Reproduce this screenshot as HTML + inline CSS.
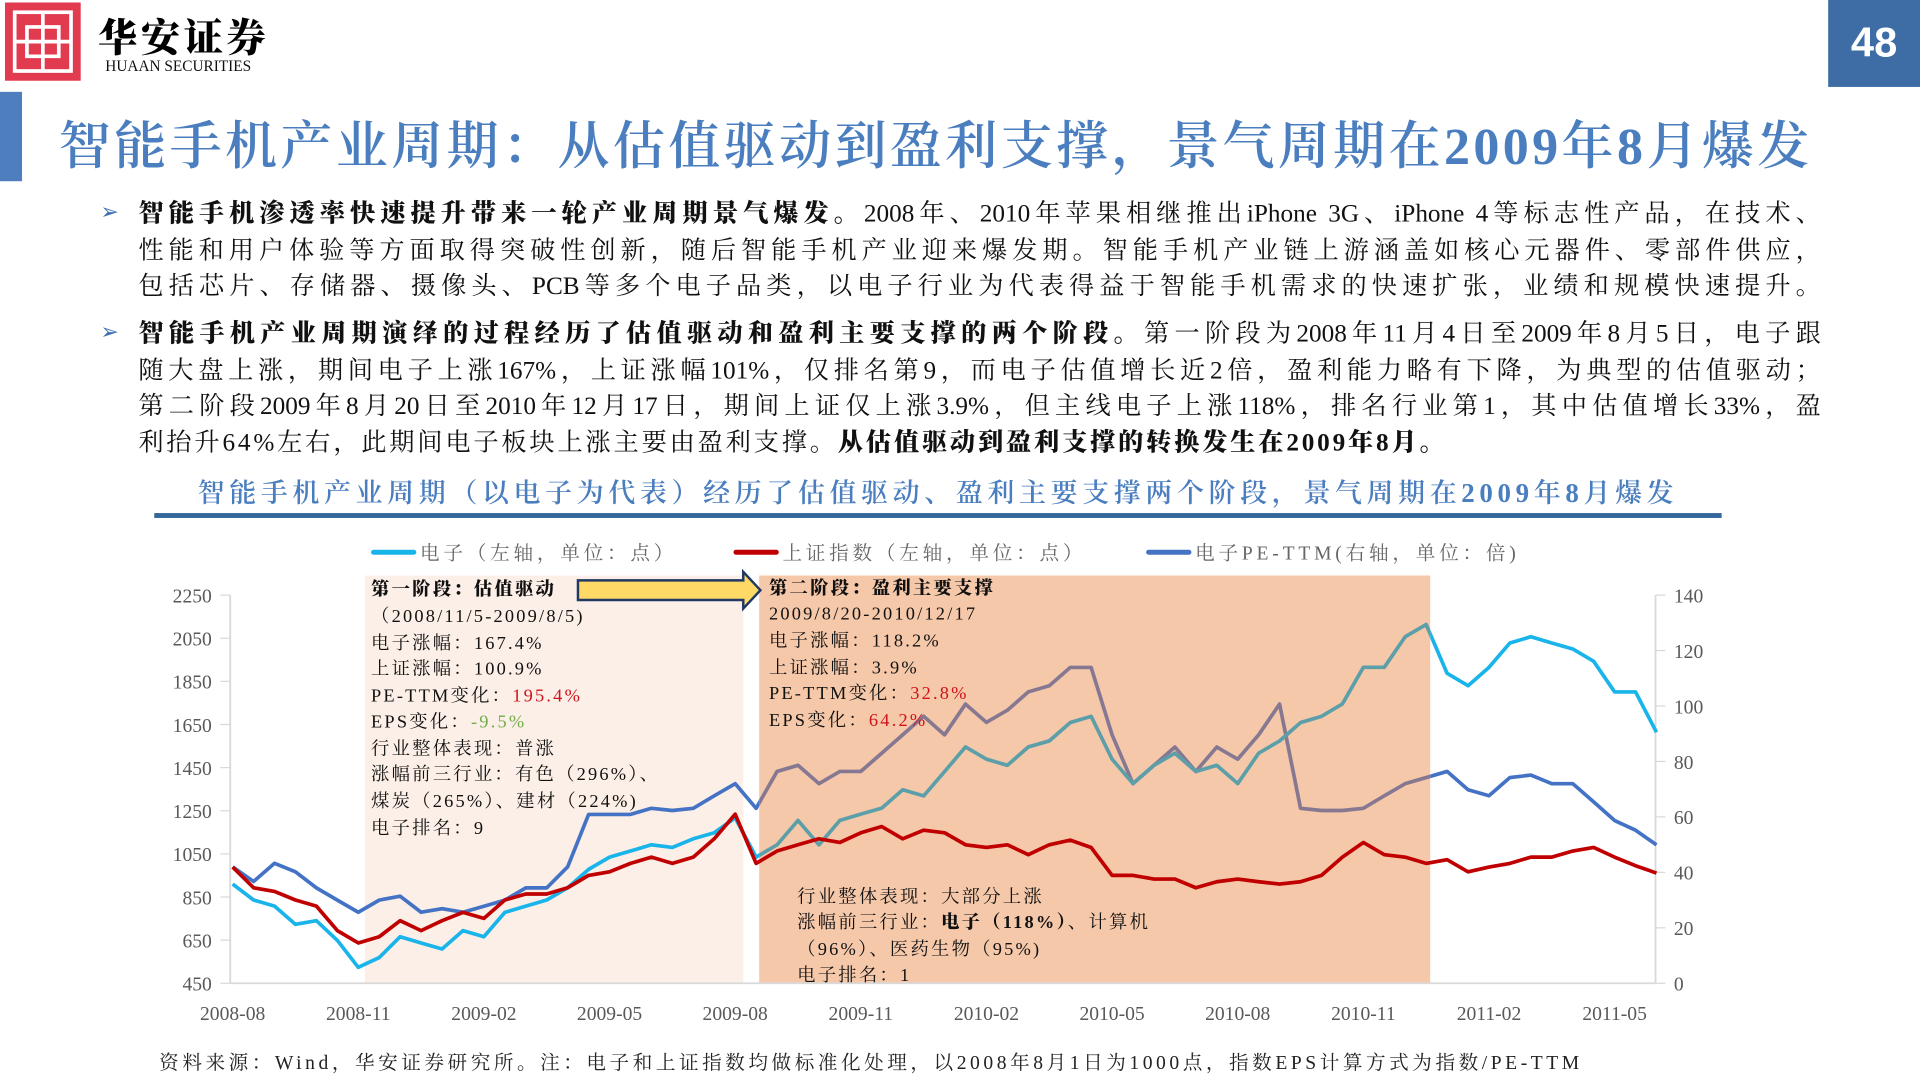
<!DOCTYPE html>
<html><head><meta charset="utf-8">
<style>
html,body{margin:0;padding:0;background:#fff;width:1920px;height:1080px;overflow:hidden}
#s{position:absolute;left:0;top:0;width:1568px;height:882px;transform:scale(1.22449);transform-origin:0 0;font-family:"Liberation Serif","Noto Serif CJK SC",serif}
.a{position:absolute;white-space:nowrap}
.p{position:absolute;left:113px;width:1374px;font-size:20.6px;line-height:29.5px;color:#111}
.p div{text-align:justify;text-align-last:justify;height:29.5px;overflow:visible}
.p div.l{text-align-last:left;letter-spacing:2.3px}
.p b{font-weight:900}
.bul{position:absolute;left:82px;color:#3F6FB0;font-size:18px}
</style></head><body>
<div id="s">
  <svg class="a" style="left:4px;top:2px" width="62" height="64">
    <rect width="62" height="64" fill="#E23A4E"/>
    <rect x="8" y="8" width="46" height="48" fill="none" stroke="#fff" stroke-width="3"/>
    <path d="M31 8 V56 M8 32 H54 M18 20 H44 V44 H18 Z" stroke="#fff" stroke-width="3" fill="none"/>
  </svg>
  <div class="a" style="left:80px;top:6px;font-size:32px;font-weight:900;letter-spacing:3px;font-family:'Noto Serif CJK SC',serif">华安证券</div>
  <div class="a" style="left:86px;top:47px;font-size:12.5px;color:#111">HUAAN SECURITIES</div>
  <div class="a" style="left:1493px;top:0;width:75px;height:71px;background:#3E6DA6;color:#fff;font:bold 34px 'Liberation Sans',sans-serif;line-height:71px;text-align:center">48</div>
  <div class="a" style="left:0;top:75px;width:18px;height:73px;background:#4E7EBD"></div>
  <div class="a" style="left:48px;top:86px;font-size:42.5px;color:#4A7EBF;font-weight:600;letter-spacing:2.75px">智能手机产业周期：从估值驱动到盈利支撑，景气周期在2009年8月爆发</div>

  <div class="bul" style="top:163px">➢</div>
  <div class="p" style="top:161px">
    <div><b>智能手机渗透率快速提升带来一轮产业周期景气爆发。</b>2008年、2010年苹果相继推出iPhone 3G、iPhone 4等标志性产品，在技术、</div>
    <div>性能和用户体验等方面取得突破性创新，随后智能手机产业迎来爆发期。智能手机产业链上游涵盖如核心元器件、零部件供应，</div>
    <div>包括芯片、存储器、摄像头、PCB等多个电子品类，以电子行业为代表得益于智能手机需求的快速扩张，业绩和规模快速提升。</div>
  </div>
  <div class="bul" style="top:261px">➢</div>
  <div class="p" style="top:259px">
    <div><b>智能手机产业周期演绎的过程经历了估值驱动和盈利主要支撑的两个阶段。</b>第一阶段为2008年11月4日至2009年8月5日，电子跟</div>
    <div>随大盘上涨，期间电子上涨167%，上证涨幅101%，仅排名第9，而电子估值增长近2倍，盈利能力略有下降，为典型的估值驱动；</div>
    <div>第二阶段2009年8月20日至2010年12月17日，期间上证仅上涨3.9%，但主线电子上涨118%，排名行业第1，其中估值增长33%，盈</div>
    <div class="l">利抬升64%左右，此期间电子板块上涨主要由盈利支撑。<b>从估值驱动到盈利支撑的转换发生在2009年8月。</b></div>
  </div>

  <div class="a" style="left:126px;width:1280px;top:386px;text-align:center;font-size:22px;color:#4A7EBF;font-weight:600;letter-spacing:3.8px">智能手机产业周期（以电子为代表）经历了估值驱动、盈利主要支撑两个阶段，景气周期在2009年8月爆发</div>
  <div class="a" style="left:126px;top:419px;width:1280px;height:4px;background:#33679B"></div>

  <svg id="chart" class="a" style="left:0;top:430px" width="1568" height="420"></svg>

  <div class="a" style="left:130px;top:855px;font-size:16px;color:#222;letter-spacing:2.9px">资料来源：Wind，华安证券研究所。注：电子和上证指数均做标准化处理，以2008年8月1日为1000点，指数EPS计算方式为指数/PE-TTM</div>
</div>
<script>
const months=[0,0.5,1,1.5,2,2.5,3,3.5,4,4.5,5,5.5,6,6.5,7,7.5,8,8.5,9,9.5,10,10.5,11,11.5,12,12.5,13,13.5,14,14.5,15,15.5,16,16.5,17,17.5,18,18.5,19,19.5,20,20.5,21,21.5,22,22.5,23,23.5,24,24.5,25,25.5,26,26.5,27,27.5,28,28.5,29,29.5,30,30.5,31,31.5,32,32.5,33,33.5,34];
const elec=[910,836,808,723,740,649,524,569,666,637,609,694,666,779,808,836,893,978,1035,1063,1092,1080,1120,1148,1217,1035,1092,1205,1092,1205,1234,1262,1347,1319,1432,1546,1489,1461,1546,1574,1659,1688,1489,1376,1461,1517,1432,1461,1376,1517,1574,1659,1688,1745,1915,1915,2057,2114,1887,1830,1915,2028,2057,2028,2000,1943,1801,1801,1614];
const shIdx=[989,893,876,836,808,694,637,666,740,694,740,779,751,836,864,864,893,950,967,1006,1035,1006,1035,1120,1234,1006,1063,1092,1120,1103,1148,1177,1120,1160,1148,1092,1080,1092,1046,1092,1114,1080,950,950,933,933,893,921,933,921,910,921,950,1035,1103,1046,1035,1006,1023,967,989,1006,1035,1035,1063,1080,1035,995,961];
const pe=[42.0,36.7,43.3,40.2,34.4,30.0,25.6,30.0,31.4,25.6,26.9,25.6,27.8,30.0,34.4,34.4,42.0,60.9,60.9,60.9,63.1,62.3,63.1,67.6,72.0,63.1,76.4,78.6,72.0,76.4,76.4,83.0,89.6,96.3,89.6,100.7,94.1,98.5,105.1,107.3,113.9,113.9,89.6,72.0,78.6,85.2,76.4,85.2,80.8,89.6,100.7,63.1,62.3,62.3,63.1,67.6,72.0,74.2,76.4,69.8,67.6,74.2,75.1,72.0,72.0,65.4,58.7,55.2,49.9];
const leftTicks=[450,650,850,1050,1250,1450,1650,1850,2050,2250];
const rightTicks=[0,20,40,60,80,100,120,140];
const xLabels=["2008-08","2008-11","2009-02","2009-05","2009-08","2009-11","2010-02","2010-05","2010-08","2010-11","2011-02","2011-05"];
const xLabelMonths=[0,3,6,9,12,15,18,21,24,27,30,33];

const NS="http://www.w3.org/2000/svg";
const svg=document.getElementById('chart');
const OY=430;
const X0=188,X1=1352,YT=486-OY,YB=803-OY;
const xs=m=>190+m*34.2;
const yL=v=>YB-(v-450)/1800*(YB-YT);
const yR=v=>YB-v/140*(YB-YT);
function mk(tag,attrs,parent){const e=document.createElementNS(NS,tag);for(const k in attrs)e.setAttribute(k,attrs[k]);(parent||svg).appendChild(e);return e;}
function txt(x,y,s,attrs,parent){const e=mk('text',Object.assign({x:x,y:y},attrs),parent);e.textContent=s;return e;}

const defs=mk('defs',{});
const cIn=mk('clipPath',{id:'cin'},defs);mk('rect',{x:620,y:0,width:548,height:420},cIn);
const cOut=mk('clipPath',{id:'cout'},defs);mk('rect',{x:0,y:0,width:620,height:420},cOut);mk('rect',{x:1168,y:0,width:400,height:420},cOut);

const F='Liberation Serif, Noto Serif CJK SC, serif';
const leg=[["#19B4EA","电子（左轴，单位：点）",305],["#C00000","上证指数（左轴，单位：点）",601],["#4472C4","电子PE-TTM(右轴，单位：倍)",938]];
leg.forEach(l=>{
  const g=mk('g',{});
  
  
  mk('line',{x1:l[2],x2:l[2]+33,y1:21,y2:21,stroke:l[0],'stroke-width':4,'stroke-linecap':'round'},g);
  txt(l[2]+38,27,l[1],{'font-size':16,fill:'#666','font-family':F,'letter-spacing':3.1},g);
});

const s1=mk('rect',{x:298,y:470-OY,width:309,height:YB-(470-OY),fill:'#FCEFE7'});


const s2=mk('rect',{x:620,y:470-OY,width:548,height:YB-(470-OY),fill:'#F5C8AA'});



mk('line',{x1:X0,x2:X0,y1:YT,y2:YB,stroke:'#D9D9D9','stroke-width':1.5});
mk('line',{x1:X1,x2:X1,y1:YT,y2:YB,stroke:'#D9D9D9','stroke-width':1.5});
mk('line',{x1:X0,x2:X1,y1:YB,y2:YB,stroke:'#D9D9D9','stroke-width':1.5});
leftTicks.forEach(v=>{
  mk('line',{x1:X0-8,x2:X0,y1:yL(v),y2:yL(v),stroke:'#D9D9D9'});
  const t=txt(173,yL(v)+6,String(v),{'font-size':16,fill:'#595959','text-anchor':'end','font-family':'Liberation Serif, serif'});
  
  
});
rightTicks.forEach(v=>{
  mk('line',{x1:X1,x2:X1+8,y1:yR(v),y2:yR(v),stroke:'#D9D9D9'});
  const t=txt(1367,yR(v)+6,String(v),{'font-size':16,fill:'#595959','font-family':'Liberation Serif, serif'});
  
  
});
xLabels.forEach((s,i)=>{
  const t=txt(xs(xLabelMonths[i]),833-OY,s,{'font-size':16,fill:'#595959','text-anchor':'middle','font-family':'Liberation Serif, serif'});
  
  
});

function pts(arr,yf){return months.map((m,i)=>xs(m).toFixed(1)+','+yf(arr[i]).toFixed(1)).join(' ');}
function series(name,arr,yf,c,cMuted){
  const g=mk('g',{});
  
  
  if(cMuted){
    mk('polyline',{points:pts(arr,yf),fill:'none',stroke:c,'stroke-width':3,'stroke-linejoin':'round','clip-path':'url(#cout)'},g);
    mk('polyline',{points:pts(arr,yf),fill:'none',stroke:cMuted,'stroke-width':3,'stroke-linejoin':'round','clip-path':'url(#cin)'},g);
  } else {
    mk('polyline',{points:pts(arr,yf),fill:'none',stroke:c,'stroke-width':3,'stroke-linejoin':'round'},g);
  }
}
series('pe-ttm-line',pe,yR,'#4472C4','#877892');
series('electronics-line',elec,yL,'#19B4EA','#5C9FA8');
series('shanghai-index-line',shIdx,yL,'#C00000',null);

const ar=mk('path',{d:`M472 ${474-OY} H607 V${467-OY} L621 ${482-OY} L607 ${497-OY} V${490-OY} H472 Z`,fill:'#FFD966',stroke:'#1F3864','stroke-width':2});



function lines(x,arr,name){
  const g=mk('g',{'font-family':F,'font-size':15,fill:'#111','letter-spacing':1.8});
  
  
  arr.forEach(r=>{
    const t=mk('text',{x:x,y:r[0]-OY},g);
    if(r[2]) t.setAttribute('font-weight','900');
    r[1].forEach(seg=>{
      const sp=mk('tspan',{},t);
      if(seg[1]) sp.setAttribute('fill',seg[1]);
      if(seg[2]) sp.setAttribute('font-weight','900');
      sp.textContent=seg[0];
    });
  });
}
lines(303,[[486,[['第一阶段：估值驱动']],1],[508,[['（2008/11/5-2009/8/5)']]],[530,[['电子涨幅：167.4%']]],[551,[['上证涨幅：100.9%']]],[573,[['PE-TTM变化：'],['195.4%','#D0121B']]],[594,[['EPS变化：'],['-9.5%','#70AD47']]],[616,[['行业整体表现：普涨']]],[637,[['涨幅前三行业：有色（296%）、']]],[659,[['煤炭（265%）、建材（224%)']]],[681,[['电子排名：9']]]],'stage-1-annotation');
lines(628,[[485,[['第二阶段：盈利主要支撑']],1],[506,[['2009/8/20-2010/12/17']]],[528,[[' 电子涨幅：118.2%']]],[550,[['上证涨幅：3.9%']]],[571,[['PE-TTM变化：'],['32.8%','#D0121B']]],[593,[['EPS变化：'],['64.2%','#D0121B']]]],'stage-2-annotation');
lines(651,[[737,[['行业整体表现：大部分上涨']]],[758,[['涨幅前三行业：'],['电子（118%）',null,1],['、计算机']]],[780,[['（96%）、医药生物（95%)']]],[801,[['电子排名：1']]]],'stage-2-bottom-annotation');
</script>
</body></html>
